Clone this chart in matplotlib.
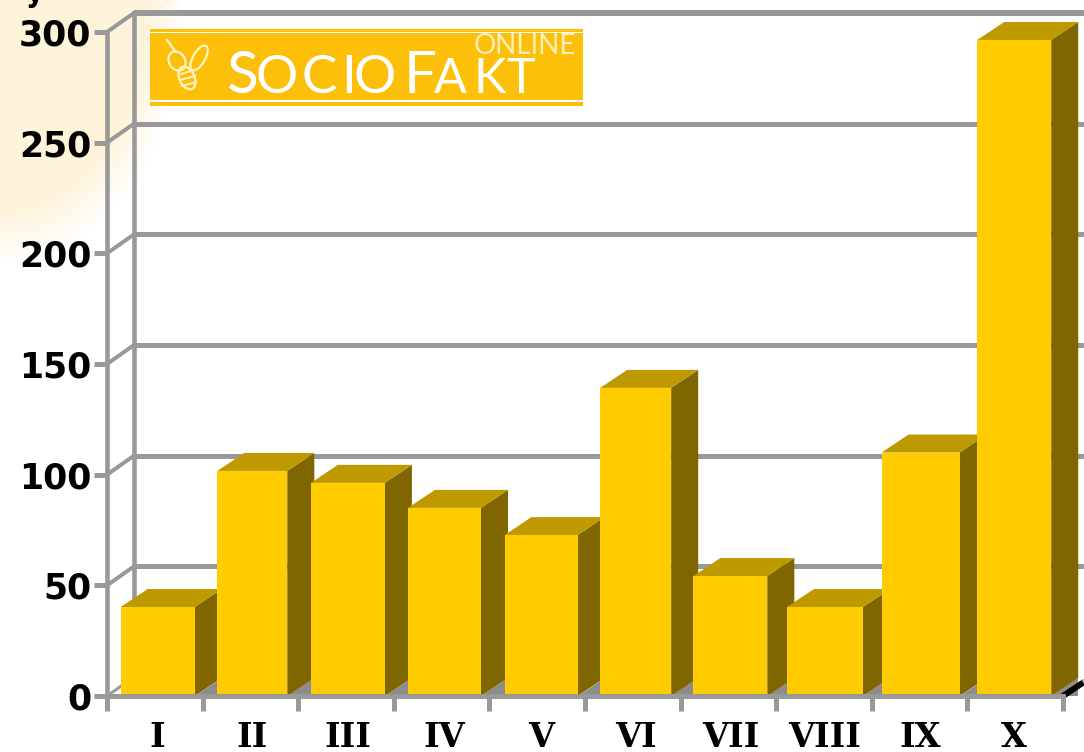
import numpy as np
import matplotlib
matplotlib.use("Agg")
import matplotlib.pyplot as plt
from matplotlib.patches import Polygon, Rectangle, Ellipse

categories = ["I", "II", "III", "IV", "V", "VI", "VII", "VIII", "IX", "X"]
values = [40.2, 101.7, 96.3, 85, 72.7, 139.2, 54.2, 40.2, 110, 296.4]
y_ticks = [0, 50, 100, 150, 200, 250, 300]

# bars in the original are not quite regular
bar_shift = [.03, .02, .02, .03, .04, .03, .02, .01, .01, -.01]
bar_width = [.774, .732, .774, .764, .764, .743, .774, .795, .816, .774]

W, H = 1084, 752
px = 72 / 100  # points per pixel at dpi 100
GREY = "#999999"
dx = 27 / 95.6   # depth of the 3d effect in x units
dy = 18 / 2.213  # same in y units
wall_dy = 19 / 2.213

fig = plt.figure(figsize=(W / 100, H / 100), dpi=100, facecolor="white")

# cream background in the top left corner
bg = fig.add_axes([0, 0, 1, 1], zorder=0)
yy, xx = np.mgrid[0:H, 0:W]
d = np.sqrt((xx / 185) ** 2 + (yy / 265) ** 2)
img = np.ones((H, W, 4))
img[..., :3] = np.array([253, 243, 216]) / 255
img[..., 3] = np.clip((1 - d) / .22, 0, 1)
bg.imshow(img, extent=(0, W, H, 0), aspect="auto")
for xs, ys in [([0, 48, 67, 107], [38, 48, 67, 53]),
               ([67, 50, 38, 0], [67, 97, 127, 133]),
               ([107, 170], [53, 0])]:
    bg.plot(xs, ys, color="#fbf4e2", lw=1.6)
bg.set_xlim(0, W)
bg.set_ylim(H, 0)
bg.axis("off")

ax = fig.add_axes([107 / W, (H - 696) / H, 956 / W, 664 / H], zorder=1)
ax.patch.set_alpha(0)
ax.set_xlim(0, 10)
ax.set_ylim(0, 300)

# back wall and floor edge
for v in y_ticks[1:]:
    lw = 6 if v == 300 else 5
    ax.plot([dx, 10 + dx], [v + wall_dy] * 2, color=GREY, lw=lw * px, clip_on=False, zorder=1, solid_capstyle="butt")
    ax.plot([0, dx], [v, v + wall_dy], color=GREY, lw=4 * px, clip_on=False, zorder=1)
ax.plot([dx, dx], [0 + wall_dy, 300 + wall_dy], color=GREY, lw=4.6 * px, clip_on=False, zorder=1)
ax.plot([0, dx], [0, wall_dy], color=GREY, lw=3 * px, clip_on=False, zorder=1)

for i, v in enumerate(values):
    x0 = i + .5 + bar_shift[i] - bar_width[i] / 2
    x1 = x0 + bar_width[i]
    z = 3 + i
    # floor wedge under the side face
    ax.add_patch(Polygon([(x1, 0), (x1 + dx, 0), (x1 + dx, dy)], fc="#8c8c8c", ec="none", zorder=z, clip_on=False))
    ax.add_patch(Polygon([(x1, 0), (x1 + dx, dy), (x1 + dx, v + dy), (x1, v)], fc="#806600", ec="none", zorder=z, clip_on=False))
    ax.add_patch(Polygon([(x0, v), (x0 + dx, v + dy), (x1 + dx, v + dy), (x1, v)], fc="#bf9900", ec="none", zorder=z, clip_on=False))
    ax.bar(x0, v, width=bar_width[i], align="edge", color="#ffcc00", zorder=z, clip_on=False)

ax.plot([10, 10 + dx * .75], [0, dy * .75], color="black", lw=6 * px, zorder=20, clip_on=False, solid_capstyle="butt")
ax.plot([10 + dx * .75, 10 + dx], [dy * .75, dy], color=GREY, lw=6 * px, zorder=20, clip_on=False, solid_capstyle="butt")

for s in ["top", "right"]:
    ax.spines[s].set_visible(False)
for s in ["left", "bottom"]:
    ax.spines[s].set_color(GREY)
    ax.spines[s].set_zorder(30)
ax.spines["left"].set_linewidth(4.6 * px)
ax.spines["bottom"].set_linewidth(5 * px)

ax.set_yticks(y_ticks)
ax.set_yticklabels([str(v) for v in y_ticks], fontsize=25, fontweight="bold", family="DejaVu Sans", color="black")
ax.set_xticks(np.arange(11))
ax.set_xticklabels([""] * 11)
ax.tick_params(axis="y", length=8 * px * 1.6, width=5 * px, color=GREY, pad=2)
ax.tick_params(axis="x", length=15 * px, width=5 * px, color=GREY)
for i, c in enumerate(categories):
    ax.annotate(c, (i + .5 + bar_shift[i], 0), xytext=(0, -(747 - 696) * px), textcoords="offset points",
                ha="center", va="baseline", fontsize=24, family="DejaVu Serif", fontweight="bold",
                annotation_clip=False)

# logo on top, pixel coordinates
top = fig.add_axes([0, 0, 1, 1], zorder=2)
top.patch.set_alpha(0)
top.set_xlim(0, W)
top.set_ylim(H, 0)
top.axis("off")
top.add_patch(Rectangle((150, 29), 433, 77, fc="#fdc00a", ec="none"))
top.add_patch(Rectangle((150, 31.5), 433, 1.5, fc="white", ec="none"))
top.add_patch(Rectangle((150, 100), 433, 1.5, fc="white", ec="none"))

# bee
bee = dict(fc="none", ec="#fff3c4", lw=1.6)
top.add_patch(Ellipse((177, 61), 16, 20, angle=-30, **bee))
top.add_patch(Ellipse((199, 58), 12, 28, angle=30, **bee))
top.add_patch(Ellipse((187, 78), 15, 24, angle=-25, **bee))
top.plot([167, 175], [40, 51], color="#fff3c4", lw=1.6)
top.plot([181, 194], [74, 70], color="#fff3c4", lw=1.4)
top.plot([180, 195], [80, 76], color="#fff3c4", lw=1.4)
top.plot([182, 196], [86, 82], color="#fff3c4", lw=1.4)

for txt, x, size in [("S", 226, 42), ("O", 256, 38), ("C", 301, 38), ("I", 341, 38), ("O", 354, 38),
                     ("F", 404, 42), ("A", 434, 35), ("K", 474, 35), ("T", 506, 35)]:
    top.text(x, 93, txt, color="white", fontsize=size, family="Lato", va="baseline", ha="left")
top.text(474, 54, "ONLINE", color="#ffeeb5", fontsize=20, family="Lato", va="baseline", ha="left")

# bit of the cut off title
top.text(35, 2, "y", fontsize=20, fontweight="bold", family="DejaVu Sans", ha="center", va="baseline", clip_on=False)

fig.savefig("out.png", dpi=100)
